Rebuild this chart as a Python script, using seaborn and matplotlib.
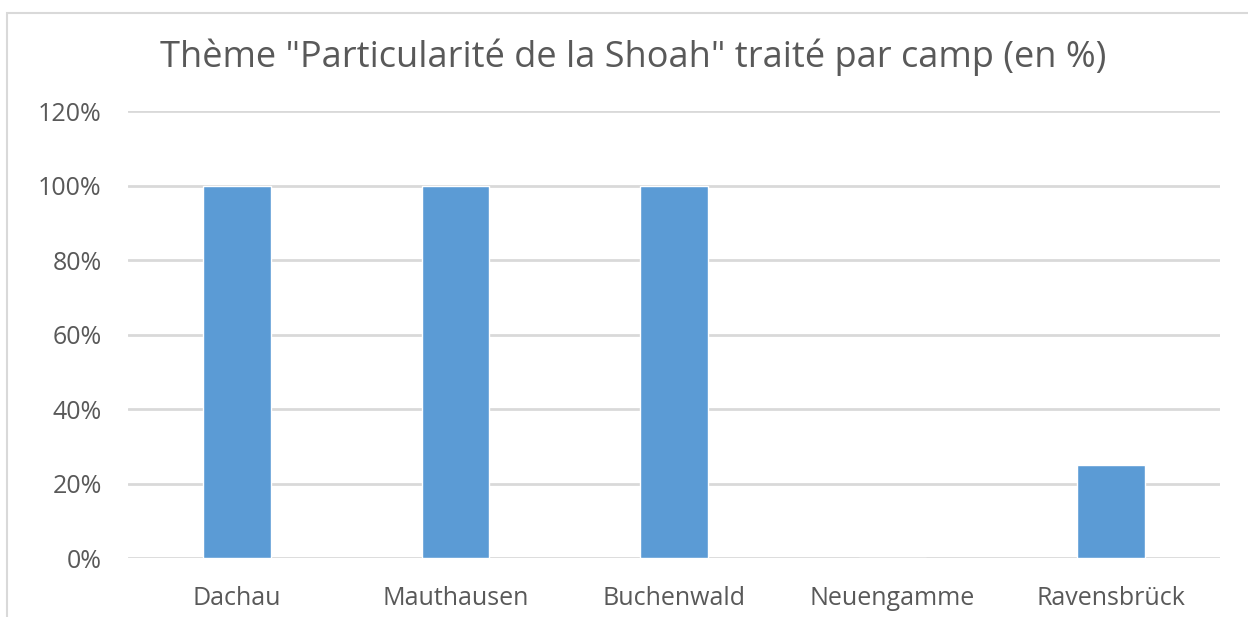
import matplotlib
matplotlib.use("Agg")
import matplotlib.pyplot as plt
import seaborn as sns
import pandas as pd
from matplotlib.patches import Rectangle
from matplotlib.ticker import PercentFormatter

# données
camps = ["Dachau", "Mauthausen", "Buchenwald", "Neuengamme", "Ravensbrück"]
valeurs = [100, 100, 100, 0, 25]
titre = 'Thème "Particularité de la Shoah" traité par camp (en %)'

sns.set_theme(style="white")
plt.rcParams['font.family'] = ['Open Sans', 'DejaVu Sans']

df = pd.DataFrame({"camp": camps, "pct": valeurs})

fig = plt.figure(figsize=(12.48, 6.17), dpi=100)
ax = fig.add_axes([0.1026, 0.0956, 0.875, 0.7244])

sns.barplot(data=df, x="camp", y="pct", color="#5B9BD5", width=0.31,
            saturation=1, ax=ax, zorder=3)

ax.set_ylim(0, 120)
ax.set_yticks(range(0, 121, 20))
ax.yaxis.set_major_formatter(PercentFormatter(decimals=0))
ax.grid(axis="y", color="#D9D9D9", linewidth=2, zorder=0)
ax.set_axisbelow(True)
for s in ax.spines.values():
    s.set_visible(False)
ax.set_xlabel("")
ax.set_ylabel("")
ax.tick_params(axis="both", length=0, labelsize=18, labelcolor="#595959")
ax.tick_params(axis="x", pad=20)
ax.tick_params(axis="y", pad=19)

fig.text(0.507, 0.907, titre, ha="center", va="center", fontsize=26, color="#595959")

# cadre du graphique
fig.patches.append(Rectangle((0.0056, -0.05), 1.1, 1.029, transform=fig.transFigure,
                             fill=False, edgecolor="#D9D9D9", linewidth=1.5))

fig.savefig("out.png", dpi=100)
